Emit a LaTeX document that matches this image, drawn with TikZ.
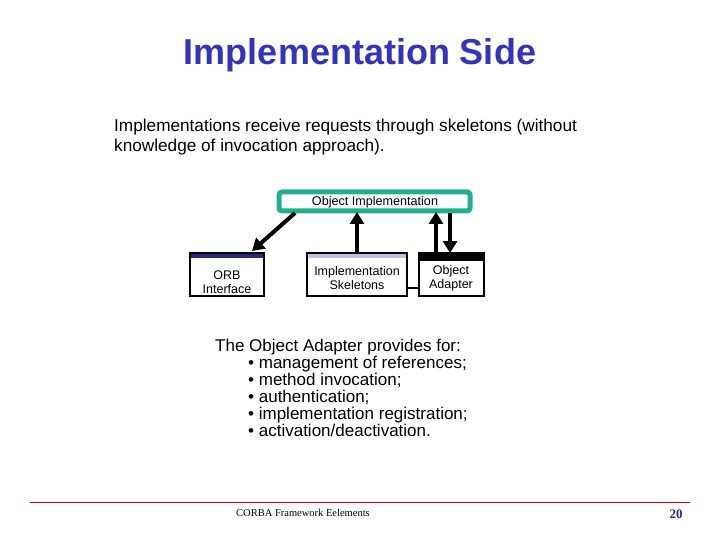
\documentclass[tikz,border=0pt]{standalone}
\usepackage{fontspec}
\setmainfont{Liberation Sans}
\newfontfamily\serifx{Liberation Serif}
\usetikzlibrary{arrows.meta}
\definecolor{titleblue}{RGB}{51,51,190}
\definecolor{teal}{RGB}{32,176,144}
\definecolor{navy}{RGB}{40,40,130}
\definecolor{lav}{RGB}{190,190,230}
\begin{document}
\begin{tikzpicture}[x=1pt,y=-1pt,
  box/.style={draw=black,line width=1.6pt,fill=white,align=center,font=\fontsize{12.5}{14}\selectfont},
  arr/.style={line width=4pt,-{Triangle[length=12pt,width=14pt]}}]
\useasboundingbox (0,0) rectangle (720,540);
\node[font=\bfseries\fontsize{36}{40}\selectfont,text=titleblue] (title) at (360,55) {Implementation Side};
\node[anchor=north west,align=left,font=\fontsize{17.2}{19.5}\selectfont,inner sep=0] (intro) at (114,119) {Implementations receive requests through skeletons (without\\knowledge of invocation approach).};
% object implementation
\draw[teal,line width=5pt,rounded corners=3pt,fill=white] (279,192) rectangle (470,211);
\node[font=\fontsize{12.6}{13}\selectfont] (oi) at (375,202) {Object Implementation};
% boxes
\draw[box] (190,253) rectangle (264,296);
\fill[navy] (191,254) rectangle (263,258);
\node[box,draw=none,fill=none] (orb) at (227,282) {ORB\\Interface};
\draw[box] (307,253) rectangle (407,296);
\fill[lav] (308,254) rectangle (406,258);
\node[box,draw=none,fill=none] (sk) at (357,278) {Implementation\\Skeletons};
\draw[box] (419,253) rectangle (484,296);
\fill[black] (419,253) rectangle (484,261);
\node[box,draw=none,fill=none] (oa) at (451,278) {Object\\Adapter};
\draw[line width=1.6pt] (407,288) -- (419,288);
\coordinate (a1) at (295,213); \coordinate (a2) at (252,251);
\draw[arr] (a1) -- (a2);
\coordinate (b1) at (357,252); \coordinate (b2) at (357,212);
\draw[arr] (b1) -- (b2);
\coordinate (c1) at (436,252); \coordinate (c2) at (436,212);
\draw[arr] (c1) -- (c2);
\coordinate (d1) at (450,213); \coordinate (d2) at (450,253);
\draw[arr] (d1) -- (d2);
\node[anchor=north west,align=left,font=\fontsize{17}{17}\selectfont,inner sep=0] (oatext) at (215,339) {The Object Adapter provides for:\\
\hspace*{33pt}• management of references;\\
\hspace*{33pt}• method invocation;\\
\hspace*{33pt}• authentication;\\
\hspace*{33pt}• implementation registration;\\
\hspace*{33pt}• activation/deactivation.};
\coordinate (l1) at (30,502); \coordinate (l2) at (690,502);
\draw[red!80!black,line width=1pt] (l1) -- (l2);
\node[font=\serifx\fontsize{10.5}{11}\selectfont] (foot) at (303,513) {CORBA Framework Eelements};
\node[font=\serifx\bfseries\fontsize{13}{13}\selectfont,text=navy] (pg) at (676,514) {20};
\end{tikzpicture}
\end{document}
